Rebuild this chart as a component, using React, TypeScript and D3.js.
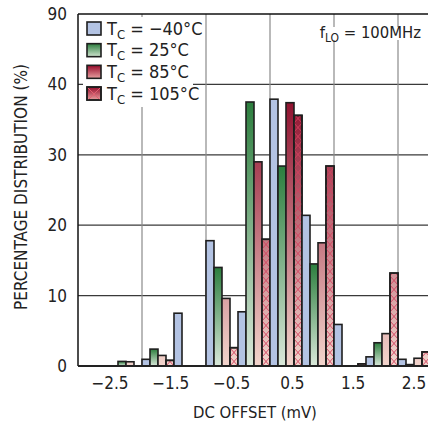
import React from 'react';
import * as d3 from 'd3';

// bin lower edges (mV), bins are 0.5 mV wide
const binStarts = [-2.5, -2, -1.5, -1, -0.5, 0, 0.5, 1, 1.5, 2];
const seriesM40 = [0, 0.95, 7.5, 17.8, 7.7, 37.9, 21.4, 5.9, 1.3, 0.95];
const series25 = [0.65, 2.4, 0, 14.0, 37.5, 28.4, 14.5, 0, 3.3, 0.2];
const series85 = [0.6, 1.5, 0, 9.6, 29.0, 37.4, 17.5, 0, 4.6, 1.1];
const series105 = [0, 0.8, 0, 2.6, 18.0, 35.6, 28.4, 0.3, 13.2, 2.0];

const seriesKeys = ['m40', 't25', 't85', 't105'];
const seriesLabels = ['\u221240\u00B0C', '25\u00B0C', '85\u00B0C', '105\u00B0C'];

const xTickValues = [-2.5, -1.5, -0.5, 0.5, 1.5, 2.5];
const xTickLabels = ['\u22122.5', '\u22121.5', '\u22120.5', '0.5', '1.5', '2.5'];
const xGridValues = [-2, -1, 0, 1, 2];
const yTickValues = [0, 10, 20, 30, 40, 50];
const yTickLabels = ['0', '10', '20', '30', '40', '90'];

const FONT = '"Liberation Sans Narrow", "DejaVu Sans Condensed", "Roboto", sans-serif';

export default function App() {
  const W = 428, H = 423;
  const x = d3.scaleLinear().domain([-3, 2.5]).range([78, 430]);
  const y = d3.scaleLinear().domain([0, 50]).range([366, 14]);
  const xLab = d3.scaleLinear().domain([-2.5, 2.5]).range([110, 414]);
  const binW = x(0.5) - x(0);
  const sub = d3.scaleBand().domain(seriesKeys).range([0, binW]).padding(0);
  const allSeries = [seriesM40, series25, series85, series105];
  const fills = ['#b3c3e3', 'url(#gGreen)', 'url(#gRed)', 'url(#gRed)'];

  const bars: any[] = [];
  binStarts.forEach((b, bi) => {
    allSeries.forEach((s, si) => {
      const v = s[bi];
      if (v <= 0) return;
      const key = seriesKeys[si];
      const bx = x(b) + (sub(key) as number);
      bars.push({ key, si, x: bx, y: y(v), w: sub.bandwidth(), h: y(0) - y(v) });
    });
  });

  const legendRowY = d3.scaleLinear().domain([0, 3]).range([28.5, 93.5]);

  return (
    <svg width={W} height={H} style={{ position: 'absolute', left: 0, top: 0, background: '#fff' }} fontFamily={FONT}>
      <defs>
        <linearGradient id="gGreen" x1="0" y1="0" x2="0" y2="1">
          <stop offset="0" stopColor="#2c7e3e" />
          <stop offset="1" stopColor="#dae8da" />
        </linearGradient>
        <linearGradient id="gRed" gradientUnits="userSpaceOnUse" x1="0" y1={y(50)} x2="0" y2={y(0)}>
          <stop offset="0.2" stopColor="#8a0525" />
          <stop offset="1" stopColor="#f2d4cc" />
        </linearGradient>
        <linearGradient id="gGreenS" x1="0" y1="0" x2="0" y2="1">
          <stop offset="0" stopColor="#2c7e3e" />
          <stop offset="1" stopColor="#cfe3cf" />
        </linearGradient>
        <linearGradient id="gRedS" x1="0" y1="0" x2="0" y2="1">
          <stop offset="0" stopColor="#960a2a" />
          <stop offset="1" stopColor="#e8a0a0" />
        </linearGradient>
        <pattern id="hatch" patternUnits="userSpaceOnUse" x={x(-3)} y={y(0)} width={sub.bandwidth()} height="9">
          <path d={`M0,0 L${sub.bandwidth()},9 M${sub.bandwidth()},0 L0,9`} stroke="#d2405e" strokeWidth="0.9" fill="none" />
        </pattern>
        <pattern id="hatchS" patternUnits="userSpaceOnUse" x="87" y="87" width="14" height="14">
          <path d="M0,0 L14,14 M14,0 L0,14" stroke="#e06070" strokeWidth="1" fill="none" />
        </pattern>
      </defs>

      {/* gridlines */}
      {yTickValues.filter(v => v > 0 && v < 50).map(v => (
        <line key={'gy' + v} x1={x(-3)} x2={W} y1={y(v)} y2={y(v)} stroke="#3a3a3a" strokeWidth={1.2} />
      ))}
      {xGridValues.map(v => (
        <line key={'gx' + v} x1={x(v)} x2={x(v)} y1={y(50)} y2={y(0)} stroke="#8a8a8a" strokeWidth={1.2} />
      ))}

      {/* white boxes behind legend and label */}
      <rect x={83} y={17} width={110} height={90} fill="#fff" />
      <rect x={316} y={27} width={112} height={13} fill="#fff" />

      {/* bars */}
      {bars.map((d, i) => (
        <g key={i}>
          <rect x={d.x} y={d.y} width={d.w} height={d.h} fill={fills[d.si]} stroke="#1e1e1e" strokeWidth={1.6} />
          {d.key === 't105' && (
            <rect x={d.x} y={d.y} width={d.w} height={d.h} fill="url(#hatch)" stroke="#1e1e1e" strokeWidth={1.6} />
          )}
        </g>
      ))}

      {/* frame */}
      <line x1={x(-3)} x2={W} y1={y(50)} y2={y(50)} stroke="#111" strokeWidth={1.5} />
      <line x1={x(-3)} x2={x(-3)} y1={y(50)} y2={y(0)} stroke="#111" strokeWidth={1.5} />
      <line x1={x(-3)} x2={W} y1={y(0)} y2={y(0)} stroke="#222" strokeWidth={2} />

      {/* y tick labels */}
      {yTickValues.map((v, i) => (
        <text key={'yl' + v} x={67} y={y(v) + 6} textAnchor="end" fontSize={17} fill="#222">{yTickLabels[i]}</text>
      ))}
      {/* x tick labels */}
      {xTickValues.map((v, i) => (
        <text key={'xl' + v} x={xLab(v)} y={389} textAnchor="middle" fontSize={17} fill="#222">{xTickLabels[i]}</text>
      ))}

      {/* axis titles */}
      <text x={255} y={418} textAnchor="middle" fontSize={16.5} fill="#222">DC OFFSET (mV)</text>
      <text transform={`translate(27,187) rotate(-90)`} textAnchor="middle" fontSize={17} fill="#222">PERCENTAGE DISTRIBUTION (%)</text>

      {/* legend */}
      {seriesKeys.map((k, i) => {
        const cy = legendRowY(i);
        const sf = i === 0 ? '#b3c3e3' : i === 1 ? 'url(#gGreenS)' : 'url(#gRedS)';
        return (
          <g key={'lg' + k}>
            <rect x={87} y={cy - 6.5} width={14} height={13} fill={sf} stroke="#1e1e1e" strokeWidth={1.6} />
            {i === 3 && <rect x={87} y={cy - 6.5} width={14} height={13} fill="url(#hatchS)" stroke="#1e1e1e" strokeWidth={1.6} />}
            <text x={107} y={cy + 6} fontSize={18} fill="#222">
              T<tspan fontSize={13} dy={4}>C</tspan><tspan dy={-4}> = {seriesLabels[i]}</tspan>
            </text>
          </g>
        );
      })}

      {/* fLO label */}
      <text x={421} y={38} textAnchor="end" fontSize={16.5} fill="#222">
        f<tspan fontSize={12} dy={4}>LO</tspan><tspan dy={-4}> = 100MHz</tspan>
      </text>
    </svg>
  );
}
